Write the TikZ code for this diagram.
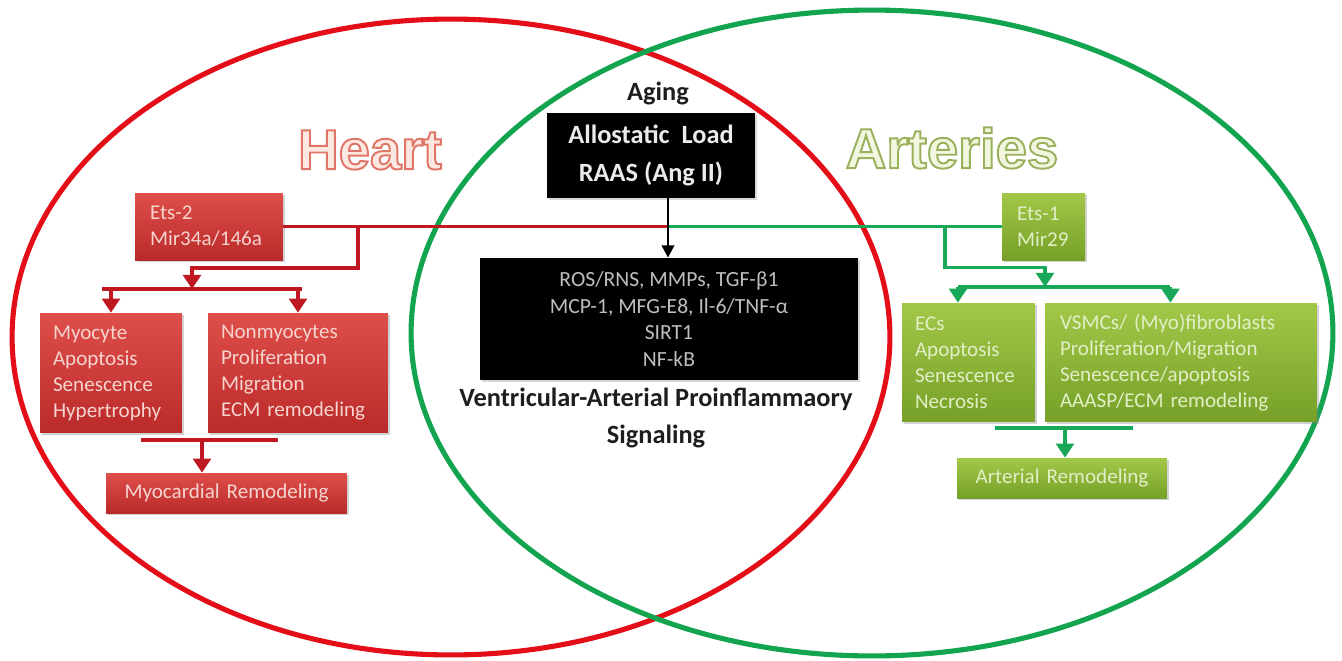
\documentclass[tikz,border=0pt]{standalone}
\usepackage{fontspec}
\setmainfont{Carlito}
\newfontfamily\wordfont{Liberation Sans}
\usepackage{xcolor}
\usetikzlibrary{arrows.meta,shadows}

\definecolor{redring}{RGB}{228,14,24}
\definecolor{greenring}{RGB}{18,164,78}
\definecolor{heartconn}{RGB}{192,24,32}
\definecolor{arteryconn}{RGB}{24,168,88}
\definecolor{hearttop}{RGB}{222,78,74}
\definecolor{heartbot}{RGB}{186,42,42}
\definecolor{hearttext}{RGB}{246,212,206}
\definecolor{arterytop}{RGB}{162,200,72}
\definecolor{arterybot}{RGB}{118,160,40}
\definecolor{arterytext}{RGB}{226,238,198}
\definecolor{heartfill}{RGB}{252,232,224}
\definecolor{arteryfill}{RGB}{242,246,222}
\definecolor{labeltext}{RGB}{30,30,30}
\definecolor{signaltext}{RGB}{190,190,190}

% outlined word: fill colour, stroke rgb, text
\newcommand\outlineword[3]{{\color{#1}\special{pdf:literal direct 2 Tr 1.1 w #2 RG}#3\special{pdf:literal direct 0 Tr}}}

\tikzset{
  box/.style={rectangle, inner xsep=0.26cm, inner ysep=0pt, align=left,
    font=\fontsize{12}{14.8}\selectfont,
    drop shadow={shadow xshift=1.2pt, shadow yshift=-1.2pt, opacity=0.35}},
  heartbox/.style={box, top color=hearttop, bottom color=heartbot, text=hearttext},
  arterybox/.style={box, top color=arterytop, bottom color=arterybot, text=arterytext},
  blackbox/.style={rectangle, fill=black, align=center, inner sep=0pt,
    drop shadow={shadow xshift=1.2pt, shadow yshift=-1.2pt, opacity=0.3}},
  ring/.style={line width=2.9pt},
  heartline/.style={draw=heartconn, line width=2pt},
  arteryline/.style={draw=arteryconn, line width=2pt},
  hearttip/.style={-{Triangle[width=10pt,length=8pt]}},
  blacktip/.style={-{Triangle[width=7pt,length=7pt]}},
  titleword/.style={font=\wordfont\bfseries\fontsize{32}{36}\selectfont},
}

\begin{document}
\begin{tikzpicture}[x=0.02cm,y=-0.02cm]
  \useasboundingbox[fill=white] (0,0) rectangle (1342,660);

  % two rings
  \draw[ring, redring] (451,337) ellipse [x radius=8.78cm, y radius=6.36cm];
  \draw[ring, greenring] (872,333) ellipse [x radius=9.22cm, y radius=6.46cm];

  % titles
  \node[titleword] (heart) at (370,150) {\outlineword{heartfill}{0.87 0.46 0.40}{Heart}};
  \node[titleword] (arteries) at (952,148) {\outlineword{arteryfill}{0.60 0.69 0.36}{Arteries}};

  % centre
  \node[font=\bfseries\fontsize{15}{18}\selectfont, text=labeltext] (aging) at (658,93) {Aging};
  \node[blackbox, text=white!92!black, minimum width=4.16cm, minimum height=1.7cm,
    font=\bfseries\fontsize{15}{21.6}\selectfont] (load) at (651,155.5)
    {Allostatic\ \ Load\\RAAS (Ang II)};
  \node[blackbox, text=signaltext, minimum width=7.56cm, minimum height=2.44cm,
    font=\fontsize{12.3}{15.2}\selectfont] (signal) at (669,319)
    {ROS/RNS, MMPs, TGF-β1\\MCP-1, MFG-E8, Il-6/TNF-α\\SIRT1\\NF-kB};
  \node[align=center, text=labeltext, font=\bfseries\fontsize{15}{21}\selectfont] (valabel) at (656,418)
    {Ventricular-Arterial Proinflammaory\\Signaling};

  % heart side
  \node[heartbox, inner xsep=0.3cm, text width=2.36cm, minimum height=1.34cm] (ets2) at (209,226.5)
    {Ets-2\\Mir34a/146a};
  \node[heartbox, text width=2.32cm, minimum height=2.4cm] (myo) at (111,373)
    {Myocyte\\Apoptosis\\Senescence\\Hypertrophy};
  \node[heartbox, text width=3.08cm, minimum height=2.4cm] (nonmyo) at (298,373)
    {Nonmyocytes\\Proliferation\\Migration\\ECM remodeling};
  \node[heartbox, align=center, text width=4.3cm, minimum height=0.8cm] (myorem) at (226.5,493)
    {Myocardial Remodeling};

  % artery side
  \node[arterybox, inner xsep=0.3cm, text width=1.06cm, minimum height=1.34cm] (ets1) at (1043.5,226.5)
    {Ets-1\\Mir29};
  \node[arterybox, text width=2.14cm, minimum height=2.38cm] (ecs) at (968.5,362.5)
    {ECs\\Apoptosis\\Senescence\\Necrosis};
  \node[arterybox, inner xsep=0.3cm, text width=4.84cm, minimum height=2.38cm] (vsmc) at (1181,362.5)
    {VSMCs/ (Myo)fibroblasts\\Proliferation/Migration\\Senescence/apoptosis\\AAASP/ECM remodeling};
  \node[arterybox, align=center, text width=3.68cm, minimum height=0.8cm] (artrem) at (1062,478)
    {Arterial Remodeling};

  % main line
  \coordinate (junc) at (668,226.5);
  \draw[heartline] (ets2.east) -- (junc); % ets2-junc
  \draw[arteryline] (junc) -- (ets1.west); % junc-ets1
  \draw[line width=1.6pt, blacktip] (load.south -| junc) -- (signal.north -| junc); % load-signal

  % heart fork
  \coordinate (hsplit) at (358,226.5);
  \coordinate (hfork) at (192,289);
  \draw[heartline, hearttip] (hsplit) |- ([yshift=12pt]hfork) -- (hfork);
  \draw[heartline, shorten <=-5pt, shorten >=-2pt] (myo.north |- hfork) -- (nonmyo.north |- hfork);
  \draw[heartline, hearttip] (myo.north |- hfork) -- (myo.north); % fork-myo
  \draw[heartline, hearttip] (nonmyo.north |- hfork) -- (nonmyo.north); % fork-nonmyo
  \coordinate (hbar) at (202,440);
  \draw[heartline, line width=2.6pt] ([xshift=-35pt]hbar) -- ([xshift=43pt]hbar);
  \draw[heartline, hearttip] (hbar) -- (hbar |- myorem.north); % bar-myorem

  % artery fork
  \coordinate (asplit) at (945,226.5);
  \coordinate (afork) at (1045,287);
  \coordinate (ecsin) at ([xshift=-6pt]ecs.north);
  \coordinate (vsmcin) at ([xshift=-6pt]vsmc.north);
  \draw[arteryline, hearttip] (asplit) |- ([yshift=11pt]afork) -- (afork);
  \draw[arteryline] (ecsin |- afork) -- (vsmcin |- afork);
  \draw[arteryline, hearttip] (ecsin |- afork) -- (ecsin); % fork-ecs
  \draw[arteryline, hearttip] (vsmcin |- afork) -- (vsmcin); % fork-vsmc
  \coordinate (abar) at (1065,428);
  \draw[arteryline, line width=2.6pt] ([xshift=-40pt]abar) -- ([xshift=38.7pt]abar);
  \draw[arteryline, hearttip] (abar) -- (abar |- artrem.north); % bar-artrem
\end{tikzpicture}
\end{document}
